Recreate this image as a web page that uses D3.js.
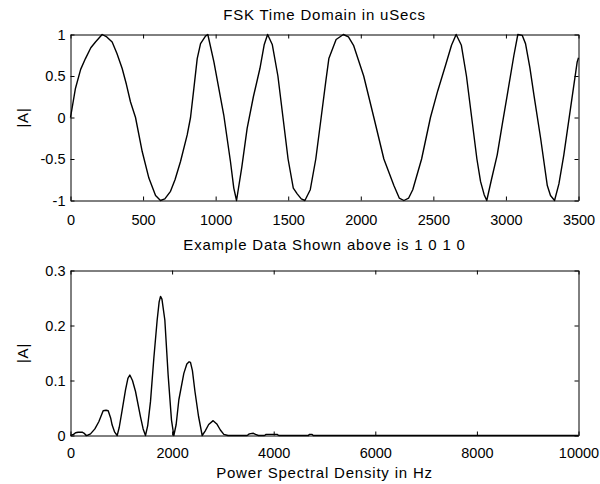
<!DOCTYPE html>
<html>
<head>
<meta charset="utf-8">
<script src="https://cdn.jsdelivr.net/npm/d3@7"></script>
<style>
body { margin: 0; background: #fff; }
svg text { font-family: "Liberation Sans", Arial, sans-serif; font-size: 15px; fill: #000; letter-spacing: 0.8px; }
</style>
</head>
<body>
<script>
// FSK time signal (uSecs, |A|)
var timeUs = [0, 34, 70, 103, 140, 172, 218, 250, 287, 320, 356, 385, 413, 448, 494, 540, 586, 620,
              650, 689, 720, 758, 804, 827, 850, 873, 896, 930, 946, 988, 1056, 1102, 1125, 1144,
              1180, 1217, 1260, 1305, 1335, 1358, 1390, 1429, 1464, 1499, 1535, 1562, 1590, 1615,
              1652, 1690, 1727, 1760, 1780, 1830, 1880, 1915, 1950, 2020, 2090, 2159, 2228, 2265, 2297,
              2330, 2358, 2419, 2480, 2530, 2584, 2625, 2657, 2693, 2728, 2764, 2800, 2825, 2850, 2868,
              2900, 2940, 2975, 3009, 3055, 3082, 3112, 3135, 3165, 3193, 3239, 3285, 3307, 3335,
              3365, 3399, 3445, 3491, 3500];
var timeAmp = [0, 0.35, 0.58, 0.71, 0.84, 0.91, 1, 0.97, 0.91, 0.77, 0.59, 0.4, 0.19, 0, -0.41, -0.73, -0.94, -1,
               -0.98, -0.89, -0.75, -0.53, -0.21, 0, 0.35, 0.71, 0.89, 0.98, 1, 0.67, 0.03, -0.53, -0.85, -1,
               -0.6, -0.13, 0.25, 0.59, 0.88, 1, 0.88, 0.5, 0, -0.5, -0.85, -0.92, -0.98, -1,
               -0.87, -0.5, 0, 0.45, 0.71, 0.94, 1, 0.97, 0.87, 0.5, 0, -0.5, -0.82, -0.97, -1,
               -0.97, -0.87, -0.5, 0, 0.32, 0.63, 0.87, 1, 0.87, 0.5, 0, -0.5, -0.77, -0.93, -1,
               -0.75, -0.45, -0.08, 0.27, 0.75, 1, 0.99, 0.89, 0.6, 0.27, -0.25, -0.82, -0.94, -1,
               -0.8, -0.45, 0.11, 0.67, 0.72];

// power spectral density (Hz, |A|)
var freqHz = [0, 60, 100, 150, 230, 270, 308, 350, 394, 480, 557, 643, 700, 742, 790, 820, 870, 919,
              960, 1017, 1083, 1130, 1168, 1220, 1280, 1378, 1430, 1476,
              1520, 1575, 1640, 1706, 1745, 1772, 1800, 1857, 1922, 1988, 2034,
              2080, 2133, 2231, 2290, 2335, 2362, 2400, 2450, 2520, 2592,
              2650, 2720, 2808, 2880, 2950, 3018, 3100, 3478, 3520, 3600, 3642, 3700,
              3819, 3850, 3950, 4068, 4100, 4685, 4700, 4757, 4780, 10000];
var psdAmp = [0, 0.002, 0.005, 0.006, 0.006, 0.004, 0, 0.001, 0.003, 0.012, 0.025, 0.045, 0.046, 0.045, 0.032, 0.019, 0.006, 0,
              0.015, 0.046, 0.083, 0.104, 0.11, 0.1, 0.08, 0.034, 0.012, 0,
              0.018, 0.062, 0.14, 0.21, 0.243, 0.253, 0.248, 0.21, 0.11, 0.028, 0,
              0.02, 0.065, 0.113, 0.13, 0.134, 0.133, 0.118, 0.08, 0.035, 0,
              0.008, 0.02, 0.027, 0.021, 0.01, 0.002, 0, 0, 0.003, 0.004, 0.002, 0,
              0, 0.002, 0.002, 0.002, 0, 0, 0.002, 0.002, 0, 0];

var timeTicks = [0, 500, 1000, 1500, 2000, 2500, 3000, 3500];
var timeTickLabels = ["0", "500", "1000", "1500", "2000", "2500", "3000", "3500"];
var ampTicks = [-1, -0.5, 0, 0.5, 1];
var ampTickLabels = ["-1", "-0.5", "0", "0.5", "1"];
var freqTicks = [0, 2000, 4000, 6000, 8000, 10000];
var freqTickLabels = ["0", "2000", "4000", "6000", "8000", "10000"];
var psdTicks = [0, 0.1, 0.2, 0.3];
var psdTickLabels = ["0", "0.1", "0.2", "0.3"];

var width = 600;
var height = 484;

var svg = d3.select("body").append("svg").attr("width", width).attr("height", height);

function drawPanel(p) {
  var x = d3.scaleLinear().domain(p.xDomain).range([p.left, p.right]);
  var y = d3.scaleLinear().domain(p.yDomain).range([p.bottom, p.top]);

  var g = svg.append("g");

  // data line
  var line = d3.line()
    .x(function(d){ return x(d[0]); })
    .y(function(d){ return y(d[1]); });

  g.append("path")
    .datum(d3.zip(p.xs, p.ys))
    .attr("d", line)
    .attr("fill", "none")
    .attr("stroke", "#000")
    .attr("stroke-width", 1.4)
    .attr("stroke-linejoin", "round");

  // inward ticks on all four sides (matlab style)
  var bottomAxis = d3.axisBottom(x).tickValues(p.xTicks)
    .tickFormat(function(d, i){ return p.xLabels[i]; })
    .tickSizeInner(-4).tickSizeOuter(0).tickPadding(p.xPad);
  var topAxis = d3.axisTop(x).tickValues(p.xTicks).tickFormat("").tickSizeInner(-4).tickSizeOuter(0);
  var leftAxis = d3.axisLeft(y).tickValues(p.yTicks)
    .tickFormat(function(d, i){ return p.yLabels[i]; })
    .tickSizeInner(-4).tickSizeOuter(0).tickPadding(5);
  var rightAxis = d3.axisRight(y).tickValues(p.yTicks).tickFormat("").tickSizeInner(-4).tickSizeOuter(0);

  g.append("g").attr("transform", "translate(0," + p.bottom + ")").call(bottomAxis);
  g.append("g").attr("transform", "translate(0," + p.top + ")").call(topAxis);
  g.append("g").attr("transform", "translate(" + p.left + ",0)").call(leftAxis);
  g.append("g").attr("transform", "translate(" + p.right + ",0)").call(rightAxis);

  g.selectAll(".domain").attr("stroke", "#000");
  g.selectAll(".tick line").attr("stroke", "#000");
  g.selectAll(".tick text")
    .style("font-size", "14.5px")
    .style("letter-spacing", "0px")
    .attr("fill", "#000");

  // axis labels
  if (p.title) {
    g.append("text")
      .attr("x", (p.left + p.right) / 2)
      .attr("y", p.top - 15)
      .attr("text-anchor", "middle")
      .text(p.title);
  }
  g.append("text")
    .attr("x", (p.left + p.right) / 2)
    .attr("y", p.bottom + p.xTitleGap)
    .attr("text-anchor", "middle")
    .text(p.xTitle);
  g.append("text")
    .attr("transform", "translate(28," + ((p.top + p.bottom) / 2) + ") rotate(-90)")
    .attr("text-anchor", "middle")
    .text("|A|");
}

drawPanel({
  left: 70.5, right: 578.5, top: 34.5, bottom: 200.5,
  xDomain: [0, 3500], yDomain: [-1, 1],
  xs: timeUs, ys: timeAmp,
  xTicks: timeTicks, xLabels: timeTickLabels,
  yTicks: ampTicks, yLabels: ampTickLabels,
  xPad: 14, xTitleGap: 49,
  title: "FSK Time Domain in uSecs",
  xTitle: "Example Data Shown above is 1 0 1 0"
});

drawPanel({
  left: 70.5, right: 578.5, top: 270.5, bottom: 435.5,
  xDomain: [0, 10000], yDomain: [0, 0.3],
  xs: freqHz, ys: psdAmp,
  xTicks: freqTicks, xLabels: freqTickLabels,
  yTicks: psdTicks, yLabels: psdTickLabels,
  xPad: 12, xTitleGap: 42,
  xTitle: "Power Spectral Density in Hz"
});
</script>
</body>
</html>
